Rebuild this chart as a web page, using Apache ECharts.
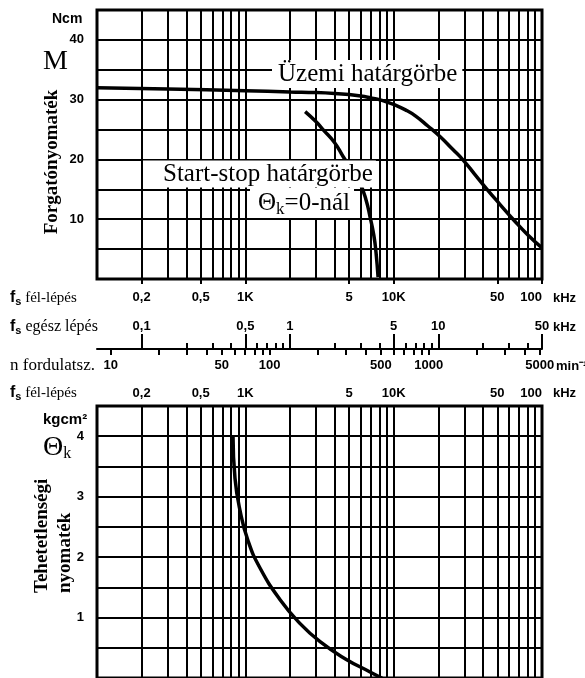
<!DOCTYPE html>
<html><head><meta charset="utf-8">
<script src="https://cdn.jsdelivr.net/npm/echarts@6/dist/echarts.min.js"></script>
<style>html,body{margin:0;padding:0;background:#fff}#c{width:585px;height:678px}</style>
</head><body><div id="c"></div>
<script>
// ---------------- data ----------------
const halfStepGridKHz = [0.1,0.2,0.3,0.4,0.5,0.6,0.7,0.8,0.9,1,2,3,4,5,6,7,8,9,10,20,30,40,50,60,70,80,90,100];
const halfStepLabelKHz = [0.2,0.5,1,5,10,50,100];
const halfStepLabelText = ['0,2','0,5','1K','5','10K','50','100'];
const fullStepMajorKHz = [0.1,0.5,1,5,10,50];
const fullStepLabelText = ['0,1','0,5','1','5','10','50'];
const fullStepMinorKHz = [0.2,0.3,0.4,0.6,0.7,0.8,0.9,2,3,4,6,7,8,9,20,30,40];
const rpmLabelValues = [10,50,100,500,1000,5000];
const rpmTickValues = [10,20,30,40,50,60,70,80,90,100,200,300,400,500,600,700,800,900,1000,2000,3000,4000,5000];
const torqueLabelValues = [10,20,30,40];
const inertiaLabelValues = [1,2,3,4];

// Üzemi határgörbe (operating limit curve): half-step kHz -> Ncm
const opFreqKHz   = [0.1, 0.3, 1, 2, 3, 4, 5, 6, 7, 8, 9, 10, 12, 14, 17, 20.6, 25, 29.4, 35, 42.6, 52, 63.8, 80, 100];
const opTorqueNcm = [32.0,31.8,31.5,31.3,31.2,31.05,30.85,30.6,30.3,30.0,29.6,29.2,28.3,27.3,25.6,23.8,21.7,19.9,17.6,15.0,12.5,10.0,7.4,5.2];
// Start-stop határgörbe
const ssFreqKHz   = [2.53, 3.0, 3.34, 4.0, 4.56, 5.3, 5.93, 6.5, 6.93, 7.35, 7.6, 7.85];
const ssTorqueNcm = [28, 26.3, 25, 22.8, 20.5, 18, 16, 13.3, 10.4, 7.3, 4.5, 0.3];
// Tehetetlenségi nyomaték (inertia) curve
const inFreqKHz = [0.826, 0.852, 0.921, 1.043, 1.256, 1.71, 2.34, 3.19, 4.7, 6.93, 8.75];
const inInertia = [4.0, 3.3, 2.77, 2.27, 1.82, 1.3, 0.9, 0.6, 0.32, 0.1, -0.03];

const rpmMin = 8.2, rpmMax = 5160;

// ---------------- chart ----------------
const L = Math.log10;
const lg = a => a.map(v => L(v));
const SANS = "'Liberation Sans', Arial, sans-serif";
const SERIF = "'Liberation Serif', 'Times New Roman', serif";
const BLACK = '#000';
function fmt(vals, texts) {
  return function (v) {
    for (let i = 0; i < vals.length; i++) if (Math.abs(L(vals[i]) - v) < 1e-6) return texts[i];
    return '';
  };
}
const baseGrid = {left: 97, width: 445, containLabel: false, outerBoundsMode: 'none'};
const grids = [
  Object.assign({}, baseGrid, {top: 10, height: 269, show: true, borderColor: BLACK, borderWidth: 3}),
  Object.assign({}, baseGrid, {top: 406, height: 272, show: true, borderColor: BLACK, borderWidth: 3}),
  Object.assign({}, baseGrid, {top: 300, height: 49}),
  Object.assign({}, baseGrid, {top: 300, height: 49}),
  Object.assign({}, baseGrid, {top: 300, height: 49}),
  Object.assign({}, baseGrid, {top: 10, height: 269})
];
const tickLbl = {color: BLACK, fontFamily: SANS, fontWeight: 'bold', fontSize: 13};
const xAxes = [
  { gridIndex: 0, type: 'value', min: L(0.1), max: L(100), position: 'bottom',
    axisLine: {show: false}, axisTick: {show: false, customValues: lg(halfStepGridKHz)},
    splitLine: {show: true, lineStyle: {color: BLACK, width: 2}},
    axisLabel: Object.assign({customValues: lg(halfStepLabelKHz), formatter: fmt(halfStepLabelKHz, halfStepLabelText), margin: 12, alignMaxLabel: 'right'}, tickLbl) },
  { gridIndex: 1, type: 'value', min: L(0.1), max: L(100), position: 'top',
    axisLine: {show: false}, axisTick: {show: false, customValues: lg(halfStepGridKHz)},
    splitLine: {show: true, lineStyle: {color: BLACK, width: 2}},
    axisLabel: Object.assign({customValues: lg(halfStepLabelKHz), formatter: fmt(halfStepLabelKHz, halfStepLabelText), margin: 6, alignMaxLabel: 'right'}, tickLbl) },
  { gridIndex: 2, type: 'value', min: L(0.05), max: L(50), position: 'bottom',
    axisLine: {show: true, lineStyle: {color: BLACK, width: 2}},
    axisTick: {show: true, inside: true, length: 15, customValues: lg(fullStepMajorKHz), lineStyle: {color: BLACK, width: 2}},
    splitLine: {show: false},
    axisLabel: Object.assign({inside: true, customValues: lg(fullStepMajorKHz), formatter: fmt(fullStepMajorKHz, fullStepLabelText), margin: 16}, tickLbl) },
  { gridIndex: 3, type: 'value', min: L(0.05), max: L(50), position: 'bottom',
    axisLine: {show: false},
    axisTick: {show: true, inside: true, length: 6, customValues: lg(fullStepMinorKHz), lineStyle: {color: BLACK, width: 2}},
    splitLine: {show: false}, axisLabel: {show: false} },
  { gridIndex: 4, type: 'value', min: L(rpmMin), max: L(rpmMax), position: 'bottom',
    axisLine: {show: false},
    axisTick: {show: true, length: 6, customValues: lg(rpmTickValues), lineStyle: {color: BLACK, width: 2}},
    splitLine: {show: false},
    axisLabel: Object.assign({customValues: lg(rpmLabelValues), formatter: fmt(rpmLabelValues, rpmLabelValues.map(String)), margin: 10}, tickLbl) },
  { gridIndex: 5, type: 'value', min: L(0.1), max: L(100), position: 'bottom',
    axisLine: {show: false},
    axisTick: {show: true, length: 5, customValues: lg(halfStepLabelKHz), lineStyle: {color: BLACK, width: 2}},
    splitLine: {show: false}, axisLabel: {show: false} }
];
const yLbl = {color: BLACK, fontFamily: SANS, fontWeight: 'bold', fontSize: 13, margin: 13};
const yAxes = [
  { gridIndex: 0, type: 'value', min: 0, max: 45, interval: 5,
    axisLine: {show: false}, axisTick: {show: false},
    splitLine: {show: true, lineStyle: {color: BLACK, width: 2}},
    axisLabel: Object.assign({formatter: v => torqueLabelValues.indexOf(v) >= 0 ? String(v) : ''}, yLbl) },
  { gridIndex: 1, type: 'value', min: 0, max: 4.5, interval: 0.5,
    axisLine: {show: false}, axisTick: {show: false},
    splitLine: {show: true, lineStyle: {color: BLACK, width: 2}},
    axisLabel: Object.assign({formatter: v => inertiaLabelValues.indexOf(v) >= 0 ? String(v) : ''}, yLbl) }
];
for (let i = 2; i <= 5; i++) yAxes.push({gridIndex: i, type: 'value', min: 0, max: 1, show: false});

const curveStyle = {color: BLACK, width: 3.5};
const series = [
  {type: 'line', xAxisIndex: 0, yAxisIndex: 0, symbol: 'none', smooth: 0.5, lineStyle: curveStyle,
   data: opFreqKHz.map((f, i) => [L(f), opTorqueNcm[i]]), z: 5},
  {type: 'line', xAxisIndex: 0, yAxisIndex: 0, symbol: 'none', smooth: 0.5, lineStyle: curveStyle,
   data: ssFreqKHz.map((f, i) => [L(f), ssTorqueNcm[i]]), z: 5},
  {type: 'line', xAxisIndex: 1, yAxisIndex: 1, symbol: 'none', smooth: 0.5, lineStyle: curveStyle,
   data: inFreqKHz.map((f, i) => [L(f), inInertia[i]]), z: 5}
];

function txt(x, y, text, font, extra) {
  return {type: 'text', x: x, y: y, z: 100,
    style: Object.assign({text: text, font: font, fill: BLACK, align: 'left', verticalAlign: 'middle',
      textAlign: 'left', textVerticalAlign: 'middle'}, extra || {})};
}
function fsRich(size) {
  return {
    f: {fontFamily: SANS, fontWeight: 'bold', fontSize: 16, lineHeight: 19},
    s: {fontFamily: SANS, fontWeight: 'bold', fontSize: 11, lineHeight: 9, verticalAlign: 'bottom'},
    t: {fontFamily: SERIF, fontSize: size, lineHeight: 19}
  };
}
const graphics = [
  txt(52, 19, 'Ncm', 'bold 14px ' + SANS),
  txt(43, 62, 'M', '28px ' + SERIF),
  Object.assign(txt(52, 162, 'Forgatónyomaték', 'bold 19px ' + SERIF, {align: 'center', textAlign: 'center'}), {rotation: Math.PI / 2}),
  txt(43, 420, 'kgcm²', 'bold 15px ' + SANS),
  txt(43, 448, '{a|Θ}{b|k}', '28px ' + SERIF, {rich: {
    a: {fontFamily: SERIF, fontSize: 28, lineHeight: 28},
    b: {fontFamily: SERIF, fontSize: 16, lineHeight: 12, verticalAlign: 'bottom'}}}),
  Object.assign(txt(31, 593, 'Tehetetlenségi\nnyomaték', 'bold 19px ' + SERIF, {verticalAlign: 'top', textVerticalAlign: 'top', lineHeight: 23}), {rotation: Math.PI / 2}),
  txt(10, 298, '{f|f}{s|s} {t|fél-lépés}', '15px ' + SERIF, {rich: fsRich(15)}),
  txt(10, 327, '{f|f}{s|s} {t|egész lépés}', '16px ' + SERIF, {rich: fsRich(16)}),
  txt(10, 366, 'n fordulatsz.', '17px ' + SERIF),
  txt(10, 393, '{f|f}{s|s} {t|fél-lépés}', '15px ' + SERIF, {rich: fsRich(15)}),
  txt(553, 298, 'kHz', 'bold 13px ' + SANS),
  txt(553, 327, 'kHz', 'bold 13px ' + SANS),
  txt(553, 393, 'kHz', 'bold 13px ' + SANS),
  txt(556, 366, 'min⁻¹', 'bold 13px ' + SANS),
  txt(272, 74, 'Üzemi határgörbe', '25px ' + SERIF, {backgroundColor: '#fff', padding: [0, 5, 0, 6], lineHeight: 28}),
  txt(143, 174, 'Start-stop határgörbe', '25px ' + SERIF, {backgroundColor: '#fff', padding: [1, 3, 0, 20], lineHeight: 26}),
  txt(250, 203, '{a|Θ}{b|k}{a|=0-nál}', '25px ' + SERIF, {backgroundColor: '#fff', padding: [0, 4, 0, 8], rich: {
    a: {fontFamily: SERIF, fontSize: 25, lineHeight: 30},
    b: {fontFamily: SERIF, fontSize: 17, lineHeight: 16, verticalAlign: 'bottom'}}})
];

const chart = echarts.init(document.getElementById('c'), null, {renderer: 'canvas'});
chart.setOption({
  backgroundColor: '#fff',
  animation: false,
  grid: grids,
  xAxis: xAxes,
  yAxis: yAxes,
  series: series,
  graphic: {elements: graphics}
});
</script></body></html>
